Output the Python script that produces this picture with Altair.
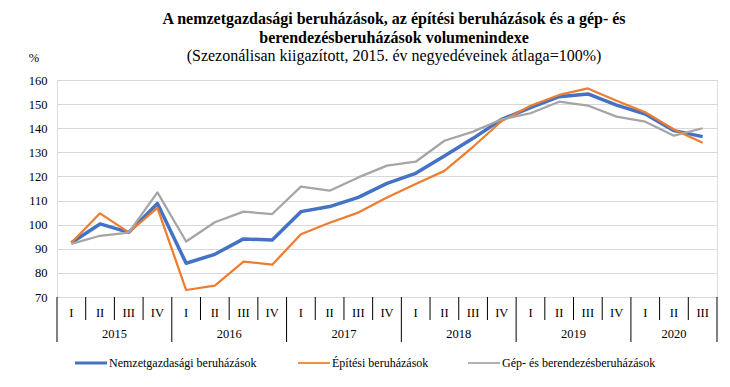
import altair as alt
import pandas as pd

years = ["2015", "2016", "2017", "2018", "2019", "2020"]
year_counts = [4, 4, 4, 4, 4, 3]
quarters = ["I", "II", "III", "IV"] * 5 + ["I", "II", "III"]

series_names = ["Nemzetgazdasági beruházások", "Építési beruházások", "Gép- és berendezésberuházások"]
nemzet = [92.5, 100.3, 96.8, 108.8, 84.0, 87.7, 94.1, 93.6, 105.4, 107.5, 111.3, 117.1,
          121.3, 128.5, 135.8, 143.7, 148.5, 153.1, 154.2, 149.6, 145.9, 139.0, 136.5]
epitesi = [92.5, 104.7, 96.8, 107.0, 72.9, 74.7, 84.7, 83.4, 96.0, 100.8, 105.0, 111.3,
           116.9, 122.3, 132.3, 143.0, 149.3, 153.8, 156.5, 151.4, 146.6, 139.5, 134.0]
gep = [92.0, 95.4, 96.7, 113.4, 93.0, 101.0, 105.4, 104.4, 115.8, 114.1, 119.6, 124.5,
       126.1, 134.8, 138.6, 143.7, 146.2, 151.0, 149.4, 144.8, 142.7, 136.9, 140.0]
colors = ["#4472C4", "#ED7D31", "#A5A5A5"]
widths = [3.5, 2.25, 2.25]

title_lines = ["A nemzetgazdasági beruházások, az építési beruházások és a gép- és",
               "berendezésberuházások volumenindexe"]
subtitle = "(Szezonálisan kiigazított, 2015. év negyedéveinek  átlaga=100%)"

W, H = 660, 217
FONT = "Liberation Serif"

n = len(quarters)
idx = list(range(n))

xscale = alt.Scale(domain=[-0.5, n - 0.5], nice=False, zero=False)
yscale = alt.Scale(domain=[70, 160], nice=False, zero=False)

layers = []
for name, vals, col, sw in zip(series_names, [nemzet, epitesi, gep], colors, widths):
    d = pd.DataFrame({"i": idx, "v": vals, "s": name})
    ln = alt.Chart(d).mark_line(color=col, strokeWidth=sw, strokeJoin="round").encode(
        x=alt.X("i:Q", scale=xscale, axis=None),
        y=alt.Y("v:Q", scale=yscale,
                axis=alt.Axis(values=list(range(70, 161, 10)), grid=True, gridColor="#D9D9D9",
                              gridWidth=1.2, domain=False, ticks=False, title=None,
                              labelFont=FONT, labelFontSize=12.5, labelColor="#000",
                              labelPadding=10)),
    )
    layers.append(ln)

# separators
year_bounds = [-0.5]
acc = 0
for c in year_counts:
    acc += c
    year_bounds.append(acc - 0.5)
q_bounds = [i - 0.5 for i in range(1, n) if (i - 0.5) not in year_bounds]

sep_df = pd.DataFrame({"b": q_bounds + year_bounds,
                       "y0": [H] * (len(q_bounds) + len(year_bounds)),
                       "y1": [240] * len(q_bounds) + [262] * len(year_bounds)})
sep = alt.Chart(sep_df).mark_rule(color="#000", strokeWidth=1).encode(
    x=alt.X("b:Q", scale=xscale, axis=None),
    y=alt.Y("y0:Q", scale=None),
    y2="y1:Q")

qtext = alt.Chart(pd.DataFrame({"i": idx, "q": quarters})).mark_text(
    font=FONT, fontSize=12.5, color="#000", baseline="middle", dy=233 - H / 2).encode(
    x=alt.X("i:Q", scale=xscale, axis=None), text="q:N")

ymid = []
start = 0
for c in year_counts:
    ymid.append(start + (c - 1) / 2)
    start += c
ytext = alt.Chart(pd.DataFrame({"m": ymid, "y": years})).mark_text(
    font=FONT, fontSize=12.5, color="#000", baseline="middle", dy=254 - H / 2).encode(
    x=alt.X("m:Q", scale=xscale, axis=None), text="y:N")

pct = alt.Chart(pd.DataFrame({"t": ["%"], "px": [-23], "py": [-22]})).mark_text(
    font=FONT, fontSize=12.5, color="#000", baseline="middle", align="center").encode(
    x=alt.X("px:Q", scale=None), y=alt.Y("py:Q", scale=None), text="t:N")

# manual legend
leg_x = [18, 241, 411]
leg = []
for name, x0, col, sw in zip(series_names, leg_x, colors, widths):
    one = pd.DataFrame({"s": [name], "x0": [x0], "x1": [x0 + 32], "tx": [x0 + 34], "ly": [283]})
    leg.append(alt.Chart(one).mark_rule(color=col, strokeWidth=sw - 0.5).encode(
        x=alt.X("x0:Q", scale=None), x2="x1:Q", y=alt.Y("ly:Q", scale=None)))
    leg.append(alt.Chart(one).mark_text(font=FONT, fontSize=12, color="#000", align="left",
                                        baseline="middle").encode(
        x=alt.X("tx:Q", scale=None), y=alt.Y("ly:Q", scale=None), text="s:N"))

chart = alt.layer(sep, qtext, ytext, pct, *layers, *leg).properties(
    width=W, height=H,
    title=alt.TitleParams(text=title_lines, subtitle=subtitle, anchor="middle", frame="group",
                          font=FONT, fontSize=16, fontWeight="bold", color="#000",
                          lineHeight=19.5, subtitleFont=FONT, subtitleFontSize=16,
                          subtitleColor="#000", subtitleLineHeight=19.5, subtitlePadding=2,
                          subtitleFontWeight="normal", offset=-12, dx=7),
    autosize=alt.AutoSizeParams(type="none"),
    padding={"left": 49, "top": 72, "right": 5, "bottom": 80},
).configure_view(stroke="#000", strokeWidth=1).configure_axis(
    labelFont=FONT, labelFontSize=12.5, labelColor="#000"
).configure_title(font=FONT, subtitleFont=FONT).configure(background="#fff")

chart.save("out.html", embed_options={"renderer": "svg", "actions": False})
